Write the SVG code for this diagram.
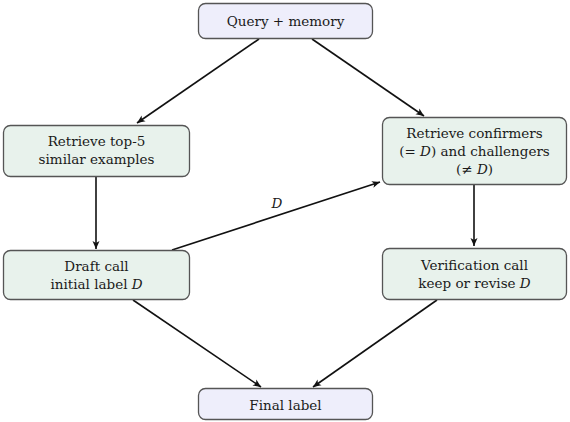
<svg xmlns="http://www.w3.org/2000/svg" width="570" height="422" viewBox="0 0 570 422">
<style>
text{font-family:'DejaVu Serif',serif;font-size:13.5px;fill:#1a1a1a;text-anchor:middle}
.i{font-style:italic}
.a{fill:#eeeefb;stroke:#555;stroke-width:1.3}
.g{fill:#e8f2ec;stroke:#555;stroke-width:1.3}
.e{stroke:#111;stroke-width:1.6;fill:none;marker-end:url(#ah)}
</style>
<defs>
<marker id="ah" markerWidth="10" markerHeight="8" refX="8" refY="4" orient="auto" markerUnits="userSpaceOnUse">
<path d="M0,0.5 L8,4 L0,7.5 L2,4 Z" fill="#111"/>
</marker>
</defs>
<g id="connectors">
<line class="e" x1="259" y1="39" x2="137" y2="123"/>
<line class="e" x1="312" y1="39" x2="424" y2="116"/>
<line class="e" x1="96" y1="177" x2="96" y2="249"/>
<line class="e" x1="172" y1="250" x2="380" y2="182"/>
<line class="e" x1="474" y1="185" x2="474" y2="246"/>
<line class="e" x1="133" y1="300" x2="261" y2="387"/>
<line class="e" x1="437" y1="300" x2="313" y2="387"/>
<text class="i" x="277" y="208">D</text>
</g>
<g id="query"><rect class="a" x="198.5" y="3.5" width="174" height="35" rx="7"/><text x="285.5" y="26">Query + memory</text></g>
<g id="retrieve5"><rect class="g" x="3.5" y="125.5" width="186" height="51" rx="7"/><text x="96.5" y="146">Retrieve top-5</text><text x="96.5" y="164">similar examples</text></g>
<g id="retrievecc"><rect class="g" x="382.5" y="117.5" width="184" height="67" rx="7"/><text x="474.5" y="138">Retrieve confirmers</text><text x="474.5" y="156">(= <tspan class="i">D</tspan>) and challengers</text><text x="474.5" y="174">(≠ <tspan class="i">D</tspan>)</text></g>
<g id="draft"><rect class="g" x="3.5" y="250.5" width="186" height="49" rx="7"/><text x="96.5" y="271">Draft call</text><text x="96.5" y="289">initial label <tspan class="i">D</tspan></text></g>
<g id="verify"><rect class="g" x="382.5" y="248.5" width="184" height="51" rx="7"/><text x="474.5" y="270">Verification call</text><text x="474.5" y="288">keep or revise <tspan class="i">D</tspan></text></g>
<g id="final"><rect class="a" x="198.5" y="388.5" width="174" height="31" rx="7"/><text x="285.5" y="410">Final label</text></g>
</svg>
